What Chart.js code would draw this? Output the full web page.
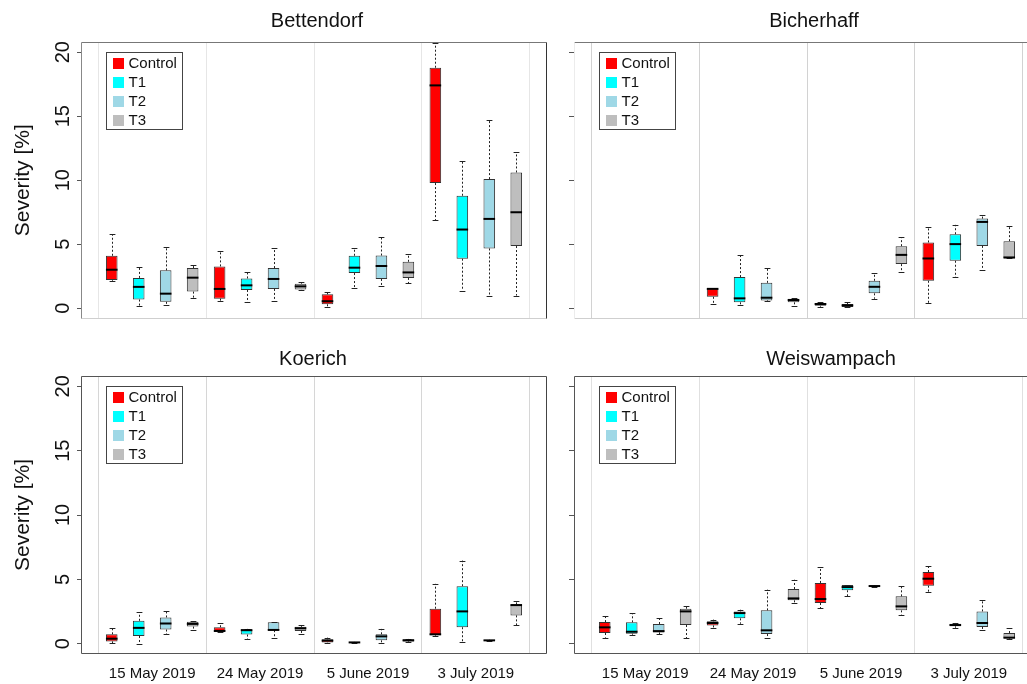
<!DOCTYPE html>
<html>
<head>
<meta charset="utf-8">
<script src="https://cdn.jsdelivr.net/npm/chart.js@4.4.1/dist/chart.umd.min.js"></script>
<style>
  html, body { margin: 0; padding: 0; background: #fff; }
  #figure { position: relative; width: 1027px; height: 684px; overflow: hidden; background: #fff; }
  #figure canvas { position: absolute; }
</style>
</head>
<body>
<div id="figure">
  <canvas id="bettendorf" width="560" height="330" style="left:0;top:0;width:560px;height:330px"></canvas>
  <canvas id="bicherhaff" width="560" height="330" style="left:493px;top:0;width:560px;height:330px"></canvas>
  <canvas id="koerich" width="560" height="354" style="left:0;top:330px;width:560px;height:354px"></canvas>
  <canvas id="weiswampach" width="560" height="354" style="left:493px;top:330px;width:560px;height:354px"></canvas>
</div>
<script>
const dates = ['15 May 2019', '24 May 2019', '5 June 2019', '3 July 2019'];
const treatments = ['Control', 'T1', 'T2', 'T3'];
const treatmentColors = ['#ff0000', '#00ffff', '#9fd8e6', '#bebebe'];
const yTicks = [0, 5, 10, 15, 20];

// each row: [lower whisker, Q1, median, Q3, upper whisker]
// rows go date by date, Control, T1, T2, T3 inside each date
const bettendorf = [
    [2.15, 2.21, 3.01, 4.10, 5.79], [0.21, 0.68, 1.67, 2.37, 3.19], [0.29, 0.50, 1.14, 2.96, 4.78], [0.81, 1.30, 2.39, 3.14, 3.35],
    [0.54, 0.75, 1.51, 3.27, 4.44], [0.47, 1.43, 1.79, 2.33, 2.80], [0.60, 1.51, 2.29, 3.14, 4.70], [1.45, 1.46, 1.71, 1.92, 2.05],
    [0.13, 0.31, 0.55, 1.09, 1.28], [1.61, 2.75, 3.17, 4.10, 4.67], [1.77, 2.29, 3.30, 4.12, 5.56], [1.95, 2.37, 2.80, 3.63, 4.20],
    [6.88, 9.78, 17.41, 18.79, 20.70], [1.38, 3.87, 6.15, 8.79, 11.52], [0.93, 4.67, 6.98, 10.09, 14.74], [0.99, 4.86, 7.50, 10.61, 12.17]
];
const bicherhaff = [
    null, null, null, null,
    [0.34, 0.93, 1.55, 1.59, 1.59], [0.26, 0.50, 0.81, 2.47, 4.18], [0.60, 0.65, 0.86, 2.02, 3.19], [0.21, 0.50, 0.68, 0.78, 0.81],
    [0.16, 0.23, 0.37, 0.44, 0.50], [0.10, 0.13, 0.26, 0.37, 0.50], [0.78, 1.20, 1.71, 2.18, 2.78], [2.86, 3.48, 4.20, 4.88, 5.56],
    [0.44, 2.18, 3.92, 5.17, 6.41], [2.47, 3.74, 5.04, 5.81, 6.54], [3.04, 4.90, 6.77, 7.03, 7.32], [3.92, 3.92, 4.00, 5.27, 6.46]
];
const koerich = [
    [0.05, 0.18, 0.39, 0.73, 1.23], [0.00, 0.60, 1.23, 1.78, 2.43], [0.73, 1.10, 1.57, 2.04, 2.56], [1.10, 1.33, 1.54, 1.70, 1.75],
    [0.92, 0.92, 0.99, 1.28, 1.57], [0.34, 0.71, 1.05, 1.12, 1.15], [0.47, 1.05, 1.07, 1.67, 1.67], [0.78, 0.99, 1.20, 1.31, 1.44],
    [0.08, 0.10, 0.24, 0.34, 0.47], [0.05, 0.07, 0.10, 0.12, 0.14], [0.05, 0.26, 0.57, 0.73, 1.15], [0.10, 0.18, 0.26, 0.34, 0.37],
    [0.60, 0.65, 0.73, 2.72, 4.65], [0.10, 1.28, 2.51, 4.47, 6.46], [0.22, 0.24, 0.26, 0.29, 0.31], [1.44, 2.20, 3.00, 3.06, 3.29]
];
const weiswampach = [
    [0.47, 0.83, 1.27, 1.68, 2.18], [0.70, 0.78, 0.93, 1.66, 2.38], [0.75, 0.88, 0.98, 1.53, 1.99], [0.44, 1.45, 2.51, 2.72, 2.90],
    [1.19, 1.42, 1.61, 1.74, 1.87], [1.55, 1.97, 2.38, 2.51, 2.64], [0.44, 0.75, 1.04, 2.59, 4.20], [3.16, 3.37, 3.52, 4.25, 4.97],
    [2.77, 3.16, 3.47, 4.72, 5.96], [3.68, 4.15, 4.40, 4.56, 4.56], [4.44, 4.46, 4.48, 4.50, 4.52], [2.25, 2.59, 2.90, 3.68, 4.46],
    [3.99, 4.51, 5.05, 5.57, 6.01], [1.24, 1.35, 1.45, 1.55, 1.61], [1.04, 1.30, 1.61, 2.51, 3.42], [0.36, 0.41, 0.47, 0.83, 1.22]
];

Chart.defaults.font.family = '"Liberation Sans", Arial, sans-serif';
Chart.defaults.color = '#000';

// panel layout (page coords for the title, canvas coords for the rest)
const panels = [
    { id: 'bettendorf', title: 'Bettendorf', stats: bettendorf, left: 0, top: 0, height: 330,
      plotTop: 42, plotBottom: 318.5, yLabels: true, xLabels: false, titleX: 317, titleY: 27,
      grid: '#e6e6e6', frame: { top: '#777', right: '#333', bottom: '#cfcfcf', left: '#888' }, tick: 4 },
    { id: 'bicherhaff', title: 'Bicherhaff', stats: bicherhaff, left: 493, top: 0, height: 330,
      plotTop: 42, plotBottom: 319, yLabels: false, xLabels: false, titleX: 814, titleY: 27,
      grid: '#d2d2d2', frame: { top: '#777', right: '#333', bottom: '#cfcfcf', left: '#ececec' }, tick: 5 },
    { id: 'koerich', title: 'Koerich', stats: koerich, left: 0, top: 330, height: 354,
      plotTop: 46, plotBottom: 324, yLabels: true, xLabels: true, titleX: 313, titleY: 365,
      grid: '#d6d6d6', frame: { top: '#555', right: '#444', bottom: '#555', left: '#555' }, tick: 4 },
    { id: 'weiswampach', title: 'Weiswampach', stats: weiswampach, left: 493, top: 330, height: 354,
      plotTop: 46, plotBottom: 324, yLabels: false, xLabels: true, titleX: 831, titleY: 365,
      grid: '#e0e0e0', frame: { top: '#555', right: '#444', bottom: '#555', left: '#555' }, tick: 5 }
];

function makePanel(p) {
    const canvas = document.getElementById(p.id);
    const ctx = canvas.getContext('2d');

    const datasets = treatments.map((name, t) => ({
        label: name,
        data: dates.map((d, g) => {
            const s = p.stats[g * 4 + t];
            return s ? { x: g * 4 + t + 1, y: [s[1], s[3]] } : null;
        }).filter(v => v),
        backgroundColor: treatmentColors[t],
        borderColor: '#333',
        borderWidth: 1,
        borderSkipped: false,
        grouped: false,
        barPercentage: 0.43,
        categoryPercentage: 1
    }));

    // whiskers, caps and medians on top of the floating bars
    const boxPlot = {
        id: 'boxPlot',
        afterDatasetsDraw(chart) {
            const c = chart.ctx;
            const y = chart.scales.y;
            chart.data.datasets.forEach((ds, t) => {
                chart.getDatasetMeta(t).data.forEach((bar, k) => {
                    const s = p.stats[ds.data[k].x - 1];
                    const cx = Math.round(bar.x) + 0.5;
                    const half = bar.width / 2;
                    const cap = bar.width / 4;
                    c.save();
                    c.strokeStyle = '#222';
                    c.lineWidth = 1;
                    c.setLineDash([2, 2]);
                    c.beginPath();
                    c.moveTo(cx, y.getPixelForValue(s[3]));
                    c.lineTo(cx, y.getPixelForValue(s[4]));
                    c.moveTo(cx, y.getPixelForValue(s[1]));
                    c.lineTo(cx, y.getPixelForValue(s[0]));
                    c.stroke();
                    c.setLineDash([]);
                    c.beginPath();
                    [s[0], s[4]].forEach(v => {
                        const py = Math.round(y.getPixelForValue(v)) + 0.5;
                        c.moveTo(cx - cap, py);
                        c.lineTo(cx + cap, py);
                    });
                    c.stroke();
                    c.strokeStyle = '#000';
                    c.lineWidth = 2;
                    c.beginPath();
                    const my = y.getPixelForValue(s[2]);
                    c.moveTo(bar.x - half, my);
                    c.lineTo(bar.x + half, my);
                    c.stroke();
                    c.restore();
                });
            });
        }
    };

    // frame, title, rotated y labels and the boxed legend
    const decor = {
        id: 'decor',
        afterDraw(chart) {
            const c = chart.ctx;
            const a = chart.chartArea;
            const L = Math.round(a.left) + 0.5, R = Math.round(a.right) - 0.5;
            const T = Math.round(a.top) + 0.5, B = Math.round(a.bottom) - 0.5;
            c.save();
            c.lineWidth = 1;
            [['top', L, T, R, T], ['bottom', L, B, R, B], ['left', L, T, L, B], ['right', R, T, R, B]].forEach(e => {
                c.strokeStyle = p.frame[e[0]];
                c.beginPath();
                c.moveTo(e[1], e[2]);
                c.lineTo(e[3], e[4]);
                c.stroke();
            });

            c.fillStyle = '#111';
            c.font = '20px "Liberation Sans", Arial, sans-serif';
            c.textAlign = 'center';
            c.textBaseline = 'alphabetic';
            c.fillText(p.title, p.titleX - p.left, p.titleY - p.top);

            if (p.yLabels) {
                const y = chart.scales.y;
                c.textBaseline = 'middle';
                yTicks.forEach(v => {
                    c.save();
                    c.translate(a.left - 17.5, y.getPixelForValue(v));
                    c.rotate(-Math.PI / 2);
                    c.fillText(String(v), 0, 0);
                    c.restore();
                });
            }

            const bx = Math.round(a.left + 24.5) + 0.5;
            const by = Math.round(a.top + 9.5) + 0.5;
            c.strokeStyle = '#444';
            c.strokeRect(bx, by, 76, 77);
            c.font = '15px "Liberation Sans", Arial, sans-serif';
            c.textAlign = 'left';
            c.textBaseline = 'middle';
            treatments.forEach((name, i) => {
                const ry = by + 10.6 + 19 * i;
                c.fillStyle = treatmentColors[i];
                c.fillRect(bx + 6.5, Math.round(ry - 5.5), 11, 11);
                c.fillStyle = '#111';
                c.fillText(name, bx + 22, ry + 0.5);
            });
            c.restore();
        }
    };

    return new Chart(ctx, {
        type: 'bar',
        data: { datasets: datasets },
        options: {
            responsive: false,
            animation: false,
            devicePixelRatio: 1,
            events: [],
            layout: {
                padding: { left: 0, right: 13, top: p.plotTop, bottom: p.xLabels ? 0 : p.height - p.plotBottom }
            },
            plugins: {
                legend: { display: false },
                tooltip: { enabled: false }
            },
            scales: {
                x: {
                    type: 'linear',
                    min: -0.14,
                    max: 17.14,
                    offset: false,
                    afterBuildTicks: s => { s.ticks = [0.5, 2.5, 4.5, 6.5, 8.5, 10.5, 12.5, 14.5, 16.5].map(v => ({ value: v })); },
                    afterFit: s => { s.height = p.xLabels ? p.height - p.plotBottom : 0; },
                    grid: {
                        offset: false,
                        drawTicks: false,
                        color: c => (c.tick && (c.tick.value - 0.5) % 4 === 0) ? p.grid : 'rgba(0,0,0,0)'
                    },
                    border: { display: false },
                    ticks: {
                        display: p.xLabels,
                        autoSkip: false,
                        maxRotation: 0,
                        padding: 11,
                        color: '#111',
                        font: { size: 15 },
                        callback: v => {
                            const g = (v - 2.5) / 4;
                            return Number.isInteger(g) ? dates[g] : '';
                        }
                    }
                },
                y: {
                    min: -0.8,
                    max: 20.8,
                    afterBuildTicks: s => { s.ticks = yTicks.map(v => ({ value: v })); },
                    afterFit: s => { s.width = 81; },
                    grid: {
                        drawOnChartArea: false,
                        drawTicks: true,
                        tickLength: p.tick,
                        color: '#555'
                    },
                    border: { display: false },
                    ticks: { display: false },
                    title: {
                        display: p.yLabels,
                        text: 'Severity [%]',
                        color: '#111',
                        font: { size: 21 },
                        padding: { top: 11, bottom: 0 }
                    }
                }
            }
        },
        plugins: [boxPlot, decor]
    });
}

document.addEventListener('DOMContentLoaded', function() {
    panels.forEach(makePanel);
});
</script>
</body>
</html>
